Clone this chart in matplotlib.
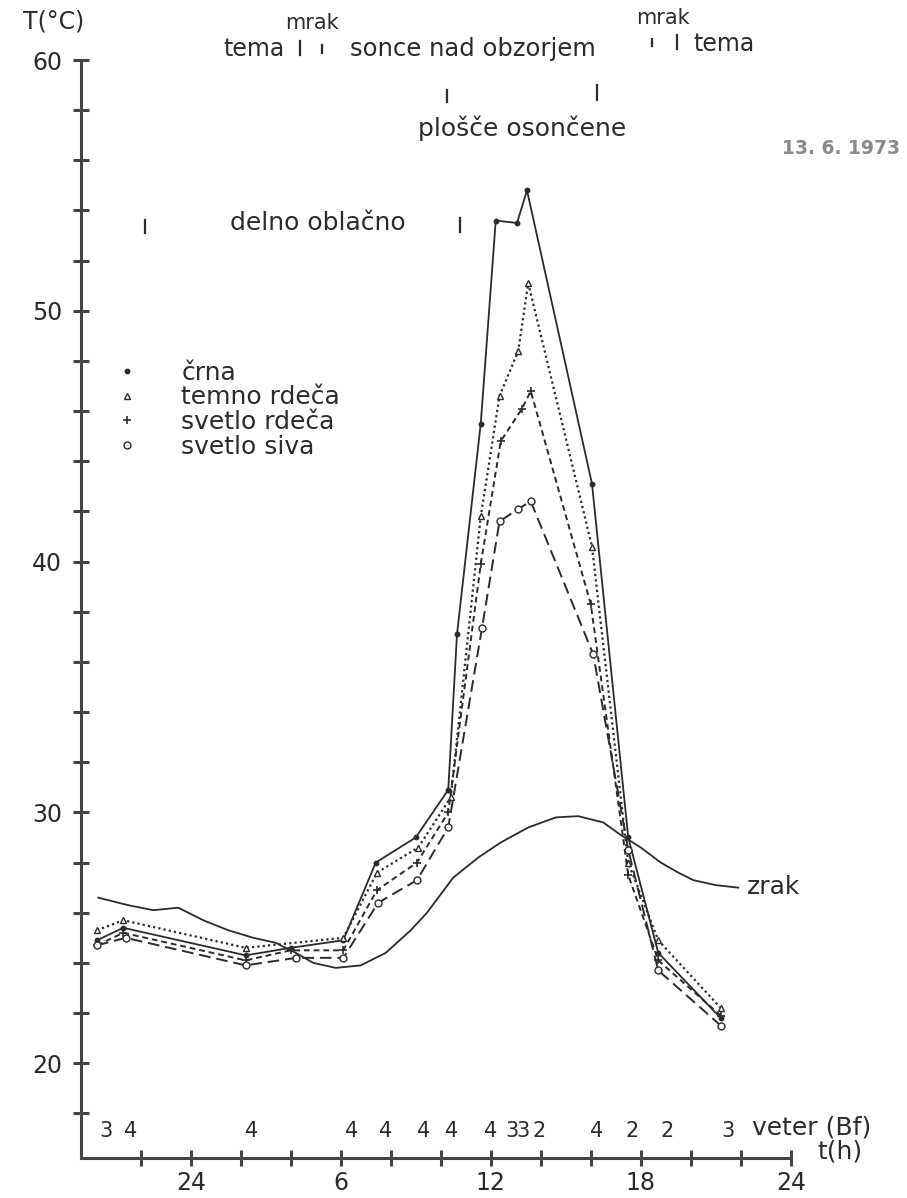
import matplotlib.pyplot as plt
from matplotlib.lines import Line2D

# cas v urah od polnoci prejsnjega dne (24 = polnoc, 48 = naslednja polnoc), T v °C
t_crna = [20.25, 21.3, 26.2, 28.0, 30.1, 31.4, 33.0, 34.3, 34.65, 35.6, 36.2, 37.05, 37.45, 40.05, 41.5, 42.7, 45.2]
T_crna = [24.9, 25.4, 24.3, 24.6, 24.9, 28.0, 29.0, 30.9, 37.1, 45.5, 53.6, 53.5, 54.8, 43.1, 29.0, 24.4, 21.8]

t_temno = [20.25, 21.3, 26.2, 30.1, 31.45, 33.1, 34.4, 35.6, 36.35, 37.1, 37.5, 40.05, 41.5, 42.7, 45.2]
T_temno = [25.3, 25.7, 24.6, 25.0, 27.6, 28.6, 30.6, 41.8, 46.6, 48.4, 51.1, 40.6, 28.0, 24.9, 22.2]

t_svetlo = [20.25, 21.3, 26.2, 28.0, 30.1, 31.45, 33.05, 34.3, 35.6, 36.4, 37.25, 37.6, 40.0, 41.5, 42.7, 45.2]
T_svetlo = [24.7, 25.2, 24.1, 24.5, 24.5, 26.9, 28.0, 30.0, 39.9, 44.8, 46.1, 46.8, 38.3, 27.5, 24.1, 21.9]

t_siva = [20.25, 21.4, 26.2, 28.2, 30.1, 31.5, 33.05, 34.3, 35.65, 36.35, 37.1, 37.6, 40.1, 41.5, 42.7, 45.2]
T_siva = [24.7, 25.0, 23.9, 24.2, 24.2, 26.4, 27.3, 29.4, 37.35, 41.6, 42.1, 42.4, 36.3, 28.5, 23.7, 21.5]

t_zrak = [20.3, 21.5, 22.5, 23.5, 24.5, 25.5, 26.5, 27.4, 28.2, 28.9, 29.8, 30.8, 31.8, 32.8, 33.45,
          34.5, 35.5, 36.4, 37.5, 38.6, 39.5, 40.5, 41.2, 42.0, 42.8, 43.5, 44.1, 45.0, 45.9]
T_zrak = [26.6, 26.3, 26.1, 26.2, 25.7, 25.3, 25.0, 24.8, 24.4, 24.0, 23.8, 23.9, 24.4, 25.3, 26.0,
          27.4, 28.2, 28.8, 29.4, 29.8, 29.85, 29.6, 29.1, 28.6, 28.0, 27.6, 27.3, 27.1, 27.0]

# veter (Bf)
veter_t = [20.6, 21.6, 26.45, 30.45, 31.8, 33.3, 34.45, 36.0, 36.85, 37.3, 37.95, 40.25, 41.65, 43.05, 45.5]
veter_bf = [3, 4, 4, 4, 4, 4, 4, 4, 3, 3, 2, 4, 2, 2, 3]

x_ticks = list(range(22, 49, 2))
x_labels = {24: '24', 30: '6', 36: '12', 42: '18', 48: '24'}
y_ticks = list(range(18, 61, 2))

ink = '#2b2b2b'
W, H = 907, 1198
fs = 18

def fx(x):
    return x / W

def fy(y):
    return 1 - y / H

def crtica(x, y0, y1, lw=1.6):
    # kratka navpicna oznaka casa na vrhu slike
    fig.add_artist(Line2D([fx(x), fx(x)], [fy(y0), fy(y1)], color=ink, lw=lw,
                          transform=fig.transFigure))

fig = plt.figure(figsize=(W / 100, H / 100), dpi=100)
ax = fig.add_axes([fx(80.75), fy(1158), 710 / W, 1098 / H])

ax.plot(t_zrak, T_zrak, '-', color=ink, lw=1.3)
ax.plot(t_crna, T_crna, '-', color=ink, lw=1.3, marker='o', ms=3.2, mfc=ink, mec=ink)
ax.plot(t_temno, T_temno, linestyle=(0, (1, 1.4)), color=ink, lw=1.6,
        marker='^', ms=4.5, mfc='white', mec=ink, mew=1)
ax.plot(t_svetlo, T_svetlo, linestyle=(0, (3, 2)), color=ink, lw=1.4,
        marker='+', ms=6, mec=ink, mew=1.2)
ax.plot(t_siva, T_siva, linestyle=(0, (6, 3)), color=ink, lw=1.4,
        marker='o', ms=5, mfc='white', mec=ink, mew=1)

ax.set_xlim(19.6, 48.0)
ax.set_ylim(16.22, 60)
for s in ['top', 'right']:
    ax.spines[s].set_visible(False)
for s in ['left', 'bottom']:
    ax.spines[s].set_linewidth(2.2)
    ax.spines[s].set_color('#444444')

ax.set_xticks(x_ticks)
ax.set_xticklabels([x_labels.get(v, '') for v in x_ticks])
ax.set_yticks(y_ticks)
ax.set_yticklabels([str(v) if v % 10 == 0 else '' for v in y_ticks])
ax.tick_params(axis='both', direction='inout', length=11, width=2.2, color='#444444',
               labelsize=17, labelcolor=ink)
ax.tick_params(axis='x', pad=4)
ax.tick_params(axis='y', pad=8)

# veter
for t, b in zip(veter_t, veter_bf):
    ax.text(t, 0.0246, str(b), transform=ax.get_xaxis_transform(), ha='center', va='center',
            fontsize=15, color=ink)
fig.text(fx(752), fy(1128), 'veter (Bf)', ha='left', va='center', fontsize=fs, color=ink)
fig.text(fx(817), fy(1151), 't(h)', ha='left', va='center', fontsize=fs, color=ink)

# napisi zgoraj
fig.text(fx(23), fy(22), 'T(°C)', ha='left', va='center', fontsize=17, color=ink)
fig.text(fx(312), fy(23), 'mrak', ha='center', va='center', fontsize=15, color=ink)
fig.text(fx(223), fy(49), 'tema', ha='left', va='center', fontsize=17, color=ink)
crtica(300, 41, 55)
crtica(322, 45, 53)
fig.text(fx(350), fy(49), 'sonce nad obzorjem', ha='left', va='center', fontsize=17.5, color=ink)
fig.text(fx(663), fy(18), 'mrak', ha='center', va='center', fontsize=15, color=ink)
crtica(652, 39, 46)
crtica(677, 35, 49)
fig.text(fx(693), fy(44), 'tema', ha='left', va='center', fontsize=17, color=ink)
crtica(447, 90, 102)
crtica(597, 85, 100)
fig.text(fx(418), fy(128), 'plošče osončene', ha='left', va='center', fontsize=fs, color=ink)
fig.text(fx(782), fy(148), '13. 6. 1973', ha='left', va='center', fontsize=13.5,
         color='#8a8a8a', fontweight='bold')
crtica(145, 220, 233)
fig.text(fx(230), fy(223), 'delno oblačno', ha='left', va='center', fontsize=fs, color=ink)
crtica(460, 218, 232)
fig.text(fx(747), fy(887), 'zrak', ha='left', va='center', fontsize=fs, color=ink)

# legenda
handles = [
    Line2D([], [], ls='none', marker='o', ms=3.2, mfc=ink, mec=ink),
    Line2D([], [], ls='none', marker='^', ms=4.5, mfc='white', mec=ink),
    Line2D([], [], ls='none', marker='+', ms=6, mec=ink, mew=1.2),
    Line2D([], [], ls='none', marker='o', ms=5, mfc='white', mec=ink),
]
labels = ['črna', 'temno rdeča', 'svetlo rdeča', 'svetlo siva']
leg = ax.legend(handles, labels, loc='upper left', bbox_to_anchor=(fx(115), fy(361)),
                bbox_transform=fig.transFigure, frameon=False, fontsize=18,
                handlelength=1.0, handletextpad=1.65, labelspacing=0.02,
                borderpad=0, borderaxespad=0)
for txt in leg.get_texts():
    txt.set_color(ink)

plt.savefig('out.png', dpi=100)
